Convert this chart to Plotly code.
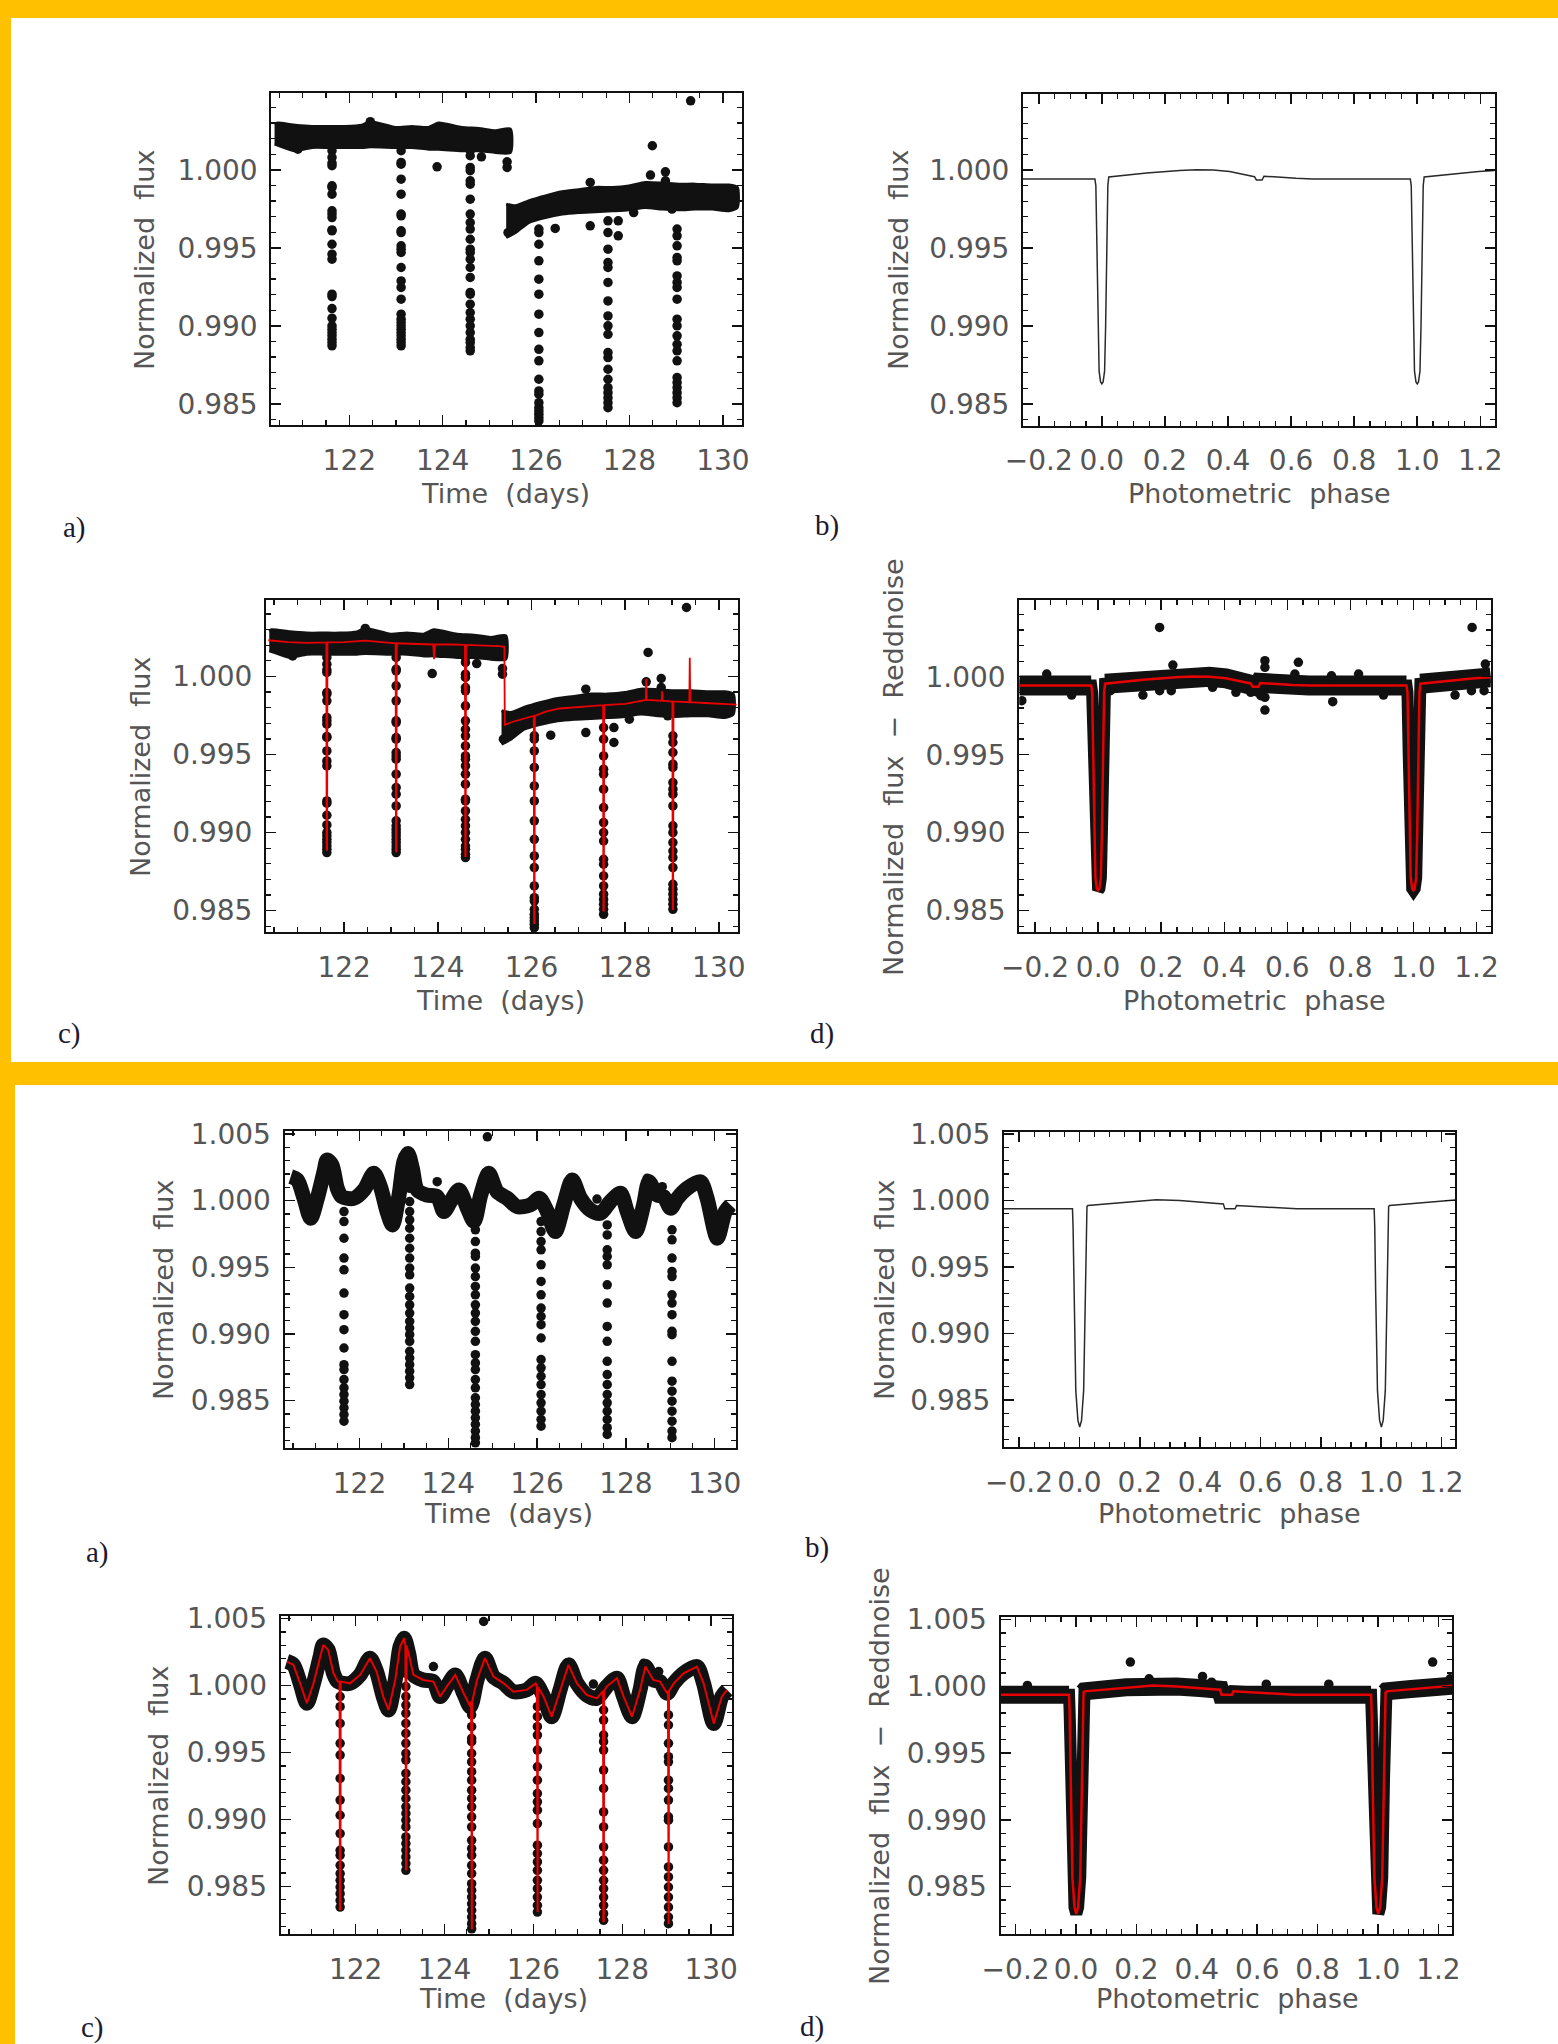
import plotly.graph_objects as go

W, H = 1558, 2044

# ---------------- Upper figure: light curve of star 1 (panels a, c) ----------------
# dense out-of-transit band: outer upper / lower edges
top_seg1_t = [120.40, 120.45, 120.84, 121.20, 121.56, 121.91, 122.27, 122.45, 122.99, 123.34, 123.70, 123.91, 124.41, 124.77, 125.13, 125.45]
top_seg1_hi = [1.00290, 1.00299, 1.00286, 1.00278, 1.00278, 1.00278, 1.00286, 1.00308, 1.00271, 1.00278, 1.00271, 1.00299, 1.00271, 1.00265, 1.00250, 1.00261]
top_seg1_lo = [1.00165, 1.00160, 1.00122, 1.00143, 1.00143, 1.00143, 1.00143, 1.00147, 1.00143, 1.00143, 1.00132, 1.00132, 1.00122, 1.00122, 1.00111, 1.00111]
top_seg2_t = [125.36, 125.56, 125.84, 126.20, 126.56, 126.91, 127.27, 127.63, 127.99, 128.34, 128.70, 129.06, 129.41, 129.77, 130.13, 130.31]
top_seg2_hi = [0.99780, 0.99769, 0.99801, 0.99833, 0.99859, 0.99872, 0.99887, 0.99887, 0.99897, 0.99919, 0.99915, 0.99908, 0.99908, 0.99902, 0.99902, 0.99887]
top_seg2_lo = [0.99566, 0.99598, 0.99662, 0.99694, 0.99716, 0.99726, 0.99731, 0.99737, 0.99744, 0.99759, 0.99748, 0.99744, 0.99748, 0.99748, 0.99737, 0.99759]

# in-transit points (one column per transit)
top_tr_t = [121.63, 123.11, 124.59, 126.06, 127.54, 129.02]
top_tr_f = [
    [1.00122, 1.00079, 1.00043, 1.00026, 0.99897, 0.99887, 0.99844, 0.99737, 0.99716, 0.99694, 0.99615, 0.99609, 0.99523,
     0.99459, 0.99427, 0.99203, 0.99188, 0.99111, 0.99049, 0.99000, 0.98979, 0.98957, 0.98936, 0.98914, 0.98893, 0.98872],
    [1.00122, 1.00047, 1.00036, 0.99940, 0.99844, 0.99716, 0.99705, 0.99609, 0.99598, 0.99513, 0.99491, 0.99470, 0.99374,
     0.99288, 0.99246, 0.99171, 0.99075, 0.99043, 0.99021, 0.99000, 0.98979, 0.98957, 0.98936, 0.98914, 0.98893, 0.98872],
    [1.00122, 1.00090, 1.00015, 0.99994, 0.99929, 0.99908, 0.99812, 0.99716, 0.99662, 0.99620, 0.99555, 0.99491, 0.99470,
     0.99427, 0.99374, 0.99310, 0.99214, 0.99203, 0.99139, 0.99085, 0.99043, 0.99000, 0.98957, 0.98914, 0.98893, 0.98861, 0.98840],
    [0.99620, 0.99598, 0.99523, 0.99417, 0.99299, 0.99203, 0.99075, 0.98957, 0.98850, 0.98776, 0.98658, 0.98583, 0.98562,
     0.98508, 0.98476, 0.98455, 0.98434, 0.98412, 0.98391],
    [0.99673, 0.99598, 0.99491, 0.99406, 0.99374, 0.99278, 0.99160, 0.99064, 0.99000, 0.98946, 0.98829, 0.98797, 0.98722,
     0.98658, 0.98605, 0.98572, 0.98540, 0.98508, 0.98476],
    [0.99620, 0.99577, 0.99513, 0.99438, 0.99417, 0.99320, 0.99278, 0.99246, 0.99171, 0.99043, 0.99000, 0.98936, 0.98882,
     0.98840, 0.98776, 0.98669, 0.98637, 0.98605, 0.98572, 0.98540, 0.98508],
]
top_out_t = [129.31, 128.49, 128.45, 128.77, 128.77, 127.16, 127.16, 126.41, 127.76, 127.76, 128.09, 128.91, 123.88, 124.83, 125.38, 125.38, 125.40, 120.90, 122.45]
top_out_f = [1.00442, 1.00154, 0.99966, 0.99987, 0.99929, 0.99919, 0.99641, 0.99624, 0.99673, 0.99577, 0.99726, 0.99748, 1.00019, 1.00083, 1.00015, 1.00051, 0.99598, 1.00132, 1.00308]

# red fit (panel c): out-of-transit part + transit dips
top_fit_t = [120.38, 120.80, 121.20, 121.55, 122.00, 122.45, 123.00, 123.50, 123.90, 123.92, 123.94, 124.30, 124.90, 125.30, 125.42, 125.43,
             125.60, 126.00, 126.30, 126.60, 127.00, 127.45, 128.00, 128.44, 128.45, 128.46, 128.70, 128.78, 128.79, 128.80, 128.95,
             129.37, 129.38, 129.39, 129.70, 130.00, 130.38]
top_fit_f = [1.00232, 1.00220, 1.00215, 1.00218, 1.00220, 1.00230, 1.00215, 1.00210, 1.00205, 1.00110, 1.00205, 1.00205, 1.00200, 1.00195, 1.00190, 0.99690,
             0.99710, 0.99745, 0.99775, 0.99795, 0.99805, 0.99815, 0.99825, 0.99850, 0.99985, 0.99850, 0.99845, 0.99845, 0.99905, 0.99845, 0.99840,
             0.99835, 1.00120, 0.99835, 0.99830, 0.99825, 0.99820]
top_tr_base = [1.00218, 1.00213, 1.00202, 0.99748, 0.99816, 0.99840]
top_tr_bottom = [0.98890, 0.98880, 0.98850, 0.98420, 0.98500, 0.98510]

# ---------------- Upper figure: phase-folded model / data (panels b, d) ----------------
top_model_ph = [-0.250, -0.022, -0.019, -0.015, -0.012, -0.0087, -0.004, 0.000, 0.004, 0.0087, 0.012, 0.015, 0.019, 0.022,
                0.142, 0.247, 0.300, 0.353, 0.405, 0.458, 0.484, 0.490, 0.508, 0.514, 0.563, 0.616, 0.668,
                0.978, 0.981, 0.985, 0.988, 0.9913, 0.996, 1.000, 1.004, 1.0087, 1.012, 1.015, 1.019, 1.022,
                1.089, 1.142, 1.195, 1.245]
top_model_f = [0.99943, 0.99943, 0.99900, 0.99500, 0.99000, 0.98711, 0.98642, 0.98630, 0.98642, 0.98711, 0.99000, 0.99500, 0.99900, 0.99955,
               0.99981, 0.99996, 1.00002, 1.00000, 0.99990, 0.99968, 0.99957, 0.99936, 0.99936, 0.99960, 0.99953, 0.99947, 0.99943,
               0.99943, 0.99900, 0.99500, 0.99000, 0.98711, 0.98642, 0.98630, 0.98642, 0.98711, 0.99000, 0.99500, 0.99900, 0.99955,
               0.99968, 0.99981, 0.99990, 0.99996]
top_pout_ph = [0.195, 1.186, -0.163, 0.237, 0.232, 0.142, 0.195, -0.084, -0.242, 0.363, 0.437, 0.484, 0.529, 0.529, 0.529, 0.529,
               0.516, 0.635, 0.624, 0.740, 0.744, 0.826, 0.905, 1.132, 1.184, 1.224, 1.228, 0.039]
top_pout_f = [1.00316, 1.00316, 1.00017, 1.00075, 0.99910, 0.99882, 0.99910, 0.99882, 0.99846, 0.99932, 0.99900, 0.99900, 1.00103, 1.00060, 0.99868, 0.99786,
              0.99878, 1.00092, 1.00017, 1.00006, 0.99840, 1.00017, 0.99882, 0.99882, 0.99910, 0.99910, 1.00081, 0.99910]

# ---------------- Lower figure: light curve of star 2 (panels a, c) ----------------
bot_t = [120.45, 120.60, 120.75, 120.90, 121.05, 121.20, 121.27, 121.38, 121.50, 121.60, 121.87, 122.10, 122.32, 122.47, 122.62,
         122.74, 122.89, 123.00, 123.09, 123.19, 123.30, 123.52, 123.75, 123.90, 124.05, 124.24, 124.43, 124.58, 124.73, 124.91,
         125.10, 125.33, 125.55, 125.85, 126.05, 126.23, 126.41, 126.60, 126.79, 126.98, 127.20, 127.43, 127.65, 127.88, 128.03,
         128.22, 128.40, 128.52, 128.70, 128.85, 129.01, 129.16, 129.38, 129.68, 129.83, 130.06, 130.24, 130.36]
bot_f = [1.00180, 1.00155, 1.00017, 0.99868, 1.00017, 1.00217, 1.00304, 1.00267, 1.00092, 1.00030, 1.00017, 1.00080, 1.00205, 1.00105, 0.99918,
         0.99818, 1.00042, 1.00292, 1.00354, 1.00242, 1.00080, 1.00042, 1.00030, 0.99918, 0.99993, 1.00080, 0.99943, 0.99843, 1.00042, 1.00205,
         1.00067, 1.00017, 0.99955, 0.99968, 1.00017, 0.99918, 0.99768, 0.99968, 1.00155, 1.00017, 0.99930, 0.99905, 0.99993, 1.00055, 0.99918,
         0.99768, 0.99968, 1.00142, 1.00042, 1.00030, 0.99943, 1.00017, 1.00092, 1.00142, 1.00017, 0.99718, 0.99918, 0.99968]
bot_tr_t = [121.65, 123.13, 124.61, 126.09, 127.58, 129.04]
bot_tr_f = [
    [0.99918, 0.99843, 0.99718, 0.99569, 0.99481, 0.99307, 0.99145, 0.99032, 0.98895, 0.98770, 0.98733, 0.98658, 0.98596,
     0.98546, 0.98496, 0.98446, 0.98396, 0.98346],
    [1.00155, 1.00092, 0.99993, 0.99918, 0.99855, 0.99793, 0.99718, 0.99643, 0.99569, 0.99494, 0.99444, 0.99344, 0.99282,
     0.99219, 0.99157, 0.99095, 0.99045, 0.98995, 0.98945, 0.98870, 0.98820, 0.98770, 0.98721, 0.98671, 0.98621],
    [0.99781, 0.99693, 0.99606, 0.99581, 0.99494, 0.99431, 0.99357, 0.99294, 0.99219, 0.99157, 0.99095, 0.99020, 0.98945,
     0.98845, 0.98783, 0.98733, 0.98658, 0.98596, 0.98521, 0.98471, 0.98421, 0.98371, 0.98322, 0.98272, 0.98222, 0.98184],
    [0.99843, 0.99768, 0.99693, 0.99631, 0.99519, 0.99394, 0.99294, 0.99194, 0.99132, 0.99070, 0.98970, 0.98808, 0.98746,
     0.98683, 0.98621, 0.98546, 0.98484, 0.98421, 0.98359, 0.98309],
    [0.99818, 0.99743, 0.99631, 0.99581, 0.99519, 0.99369, 0.99232, 0.99057, 0.98945, 0.98795, 0.98696, 0.98621, 0.98546,
     0.98484, 0.98421, 0.98359, 0.98297, 0.98247],
    [0.99781, 0.99706, 0.99569, 0.99469, 0.99431, 0.99294, 0.99232, 0.99145, 0.99020, 0.98995, 0.98795, 0.98646, 0.98571,
     0.98496, 0.98421, 0.98346, 0.98272, 0.98222],
]
bot_out_t = [124.88, 123.75, 128.48, 127.35, 128.82]
bot_out_f = [1.00479, 1.00142, 1.00167, 1.00012, 1.00105]
bot_tr_base = [1.00030, 1.00300, 0.99880, 0.99990, 0.99960, 0.99960]
bot_tr_bottom = [0.98330, 0.98620, 0.98180, 0.98310, 0.98240, 0.98220]

# ---------------- Lower figure: phase-folded model / data (panels b, d) ----------------
bot_model_ph = [-0.250, -0.023, -0.021, -0.018, -0.012, -0.005, 0.001, 0.007, 0.014, 0.020, 0.023, 0.025, 0.028,
                0.166, 0.255, 0.333, 0.410, 0.477, 0.482, 0.516, 0.521, 0.610, 0.721,
                0.977, 0.979, 0.982, 0.988, 0.995, 1.001, 1.007, 1.014, 1.020, 1.023, 1.025, 1.028,
                1.109, 1.166, 1.245]
bot_model_f = [0.99938, 0.99938, 0.99800, 0.99317, 0.98569, 0.98345, 0.98295, 0.98345, 0.98569, 0.99317, 0.99800, 0.99955, 0.99963,
               0.99993, 1.00007, 1.00000, 0.99988, 0.99975, 0.99938, 0.99938, 0.99963, 0.99950, 0.99938,
               0.99938, 0.99800, 0.99317, 0.98569, 0.98345, 0.98295, 0.98345, 0.98569, 0.99317, 0.99800, 0.99955, 0.99963,
               0.99980, 0.99993, 1.00005]
bot_pout_ph = [0.180, 1.181, 0.419, 0.242, 0.630, 0.837, -0.161, 1.239, 0.449]
bot_pout_f = [1.00182, 1.00182, 1.00075, 1.00057, 1.00017, 1.00017, 1.00007, 1.00057, 1.00032]

# ---------------- axis ranges ----------------
TOP_T_RANGE = [120.33, 130.41]
BOT_T_RANGE = [120.31, 130.47]
PH_RANGE = [-0.25, 1.245]
TOP_F_RANGE = [0.98363, 1.00490]
BOT_F_RANGE = [0.98145, 1.00520]

# ---------------- layout geometry (pixels: left, right, top, bottom) ----------------
BOX = {
    1: (271.3, 742.0, 93.3, 425.3),
    2: (1023.0, 1494.5, 93.5, 425.5),
    3: (266.0, 738.0, 600.0, 932.0),
    4: (1019.3, 1490.7, 600.3, 932.0),
    5: (284.5, 735.5, 1131.3, 1448.0),
    6: (1004.0, 1455.0, 1131.5, 1447.0),
    7: (280.6, 732.0, 1616.0, 1934.0),
    8: (1000.5, 1452.0, 1617.0, 1934.0),
}

BLACK = '#111111'
RED = '#e60000'
DOT = 9.5


def axn(i):
    return ('x' if i == 1 else 'x%d' % i), ('y' if i == 1 else 'y%d' % i)


fig = go.Figure()


def add(i, **kw):
    xa, ya = axn(i)
    fig.add_trace(go.Scatter(xaxis=xa, yaxis=ya, showlegend=False, hoverinfo='skip', **kw))


def dips(tr_t, base, bottom):
    xs, ys = [], []
    for t, b, m in zip(tr_t, base, bottom):
        xs += [t - 0.012, t - 0.005, t + 0.005, t + 0.012]
        ys += [b, m, m, b]
    return xs, ys


# ----- upper light curve (1, 3) -----
for i in (1, 3):
    for t, hi, lo in ((top_seg1_t, top_seg1_hi, top_seg1_lo), (top_seg2_t, top_seg2_hi, top_seg2_lo)):
        add(i, x=t + t[::-1], y=hi + lo[::-1], mode='lines', fill='toself', fillcolor=BLACK,
            line=dict(color=BLACK, width=3, shape='spline', smoothing=0.6))
    for tc, fl in zip(top_tr_t, top_tr_f):
        add(i, x=[tc] * len(fl), y=fl, mode='markers', marker=dict(size=DOT, color=BLACK))
    add(i, x=top_out_t, y=top_out_f, mode='markers', marker=dict(size=DOT, color=BLACK))

dx, dy = dips(top_tr_t, top_tr_base, top_tr_bottom)
pts = sorted(zip(top_fit_t + dx, top_fit_f + dy))
add(3, x=[p[0] for p in pts], y=[p[1] for p in pts], mode='lines', line=dict(color=RED, width=1.8))

# ----- upper phase (2, 4) -----
add(2, x=top_model_ph, y=top_model_f, mode='lines', line=dict(color='#2a2a2a', width=1.5))
wide = [f if f > 0.9991 else None for f in top_model_f]
add(4, x=top_model_ph, y=wide, mode='lines', line=dict(color=BLACK, width=20), connectgaps=False)
add(4, x=top_model_ph, y=top_model_f, mode='lines', line=dict(color=BLACK, width=12))
add(4, x=top_pout_ph, y=top_pout_f, mode='markers', marker=dict(size=DOT, color=BLACK))
add(4, x=top_model_ph, y=top_model_f, mode='lines', line=dict(color=RED, width=2.5))

# ----- lower light curve (5, 7) -----
for i in (5, 7):
    add(i, x=bot_t, y=bot_f, mode='lines', line=dict(color=BLACK, width=15, shape='spline', smoothing=0.8))
    for tc, fl in zip(bot_tr_t, bot_tr_f):
        add(i, x=[tc] * len(fl), y=fl, mode='markers', marker=dict(size=DOT, color=BLACK))
    add(i, x=bot_out_t, y=bot_out_f, mode='markers', marker=dict(size=DOT, color=BLACK))

dx, dy = dips(bot_tr_t, bot_tr_base, bot_tr_bottom)
pts = sorted(zip(bot_t + dx, bot_f + dy))
add(7, x=[p[0] for p in pts], y=[p[1] for p in pts], mode='lines', line=dict(color=RED, width=2))

# ----- lower phase (6, 8) -----
add(6, x=bot_model_ph, y=bot_model_f, mode='lines', line=dict(color='#2a2a2a', width=1.5))
wide = [f if f > 0.9991 else None for f in bot_model_f]
add(8, x=bot_model_ph, y=wide, mode='lines', line=dict(color=BLACK, width=18), connectgaps=False)
add(8, x=bot_model_ph, y=bot_model_f, mode='lines', line=dict(color=BLACK, width=12))
add(8, x=bot_pout_ph, y=bot_pout_f, mode='markers', marker=dict(size=DOT, color=BLACK))
add(8, x=bot_model_ph, y=bot_model_f, mode='lines', line=dict(color=RED, width=2.5))

# ---------------- axes ----------------
TICKFONT = dict(family='DejaVu Sans', size=28, color='#555555')
common = dict(showgrid=False, zeroline=False, showline=True, linecolor=BLACK, linewidth=2,
              mirror='allticks', ticks='inside', ticklen=10, tickwidth=1.5, tickcolor=BLACK,
              tickfont=TICKFONT, tickangle=0, fixedrange=True, layer='above traces', automargin=False)

layout = {}
for i in range(1, 9):
    l, r, t, b = BOX[i]
    xa, ya = axn(i)
    xkey = 'xaxis' if i == 1 else 'xaxis%d' % i
    ykey = 'yaxis' if i == 1 else 'yaxis%d' % i
    is_phase = i in (2, 4, 6, 8)
    is_top = i <= 4
    if is_phase:
        xr, dt, mdt, fmt = PH_RANGE, 0.2, 0.05, '.1f'
    else:
        xr, dt, mdt, fmt = (TOP_T_RANGE if is_top else BOT_T_RANGE), 2, 0.5, 'd'
    layout[xkey] = dict(domain=[l / W, r / W], range=xr, anchor=ya, tick0=0, dtick=dt, tickformat=fmt,
                        ticklabelstandoff=9,
                        minor=dict(tick0=0, dtick=mdt, ticks='inside', ticklen=5, tickwidth=1.2, tickcolor=BLACK),
                        **common)
    layout[ykey] = dict(domain=[1 - b / H, 1 - t / H], range=(TOP_F_RANGE if is_top else BOT_F_RANGE), anchor=xa,
                        tick0=0, dtick=0.005, tickformat='.3f', ticklabelstandoff=6,
                        minor=dict(tick0=0, dtick=0.001, ticks='inside', ticklen=5, tickwidth=1.2, tickcolor=BLACK),
                        **common)

# ---------------- text ----------------
TITLEFONT = dict(family='DejaVu Sans', size=27, color='#555555')
LETTERFONT = dict(family='Liberation Serif', size=29, color='#1a1a30')
NB = '\u00a0'
texts = [
    # (x, y, text, angle, font)
    (145, 260, 'Normalized' + NB + NB + 'flux', -90, TITLEFONT),
    (505, 493, 'Time' + NB + NB + '(days)', 0, TITLEFONT),
    (74, 527, 'a)', 0, LETTERFONT),
    (899, 260, 'Normalized' + NB + NB + 'flux', -90, TITLEFONT),
    (1259, 493, 'Photometric' + NB + NB + 'phase', 0, TITLEFONT),
    (827, 525, 'b)', 0, LETTERFONT),
    (140, 767, 'Normalized' + NB + NB + 'flux', -90, TITLEFONT),
    (500, 1000, 'Time' + NB + NB + '(days)', 0, TITLEFONT),
    (69, 1033, 'c)', 0, LETTERFONT),
    (893, 767, 'Normalized' + NB + NB + 'flux' + NB + NB + '\u2212' + NB + NB + 'Reddnoise', -90, TITLEFONT),
    (1254, 1000, 'Photometric' + NB + NB + 'phase', 0, TITLEFONT),
    (822, 1033, 'd)', 0, LETTERFONT),
    (163, 1290, 'Normalized' + NB + NB + 'flux', -90, TITLEFONT),
    (508, 1513, 'Time' + NB + NB + '(days)', 0, TITLEFONT),
    (97, 1552, 'a)', 0, LETTERFONT),
    (884, 1290, 'Normalized' + NB + NB + 'flux', -90, TITLEFONT),
    (1229, 1513, 'Photometric' + NB + NB + 'phase', 0, TITLEFONT),
    (817, 1547, 'b)', 0, LETTERFONT),
    (158, 1776, 'Normalized' + NB + NB + 'flux', -90, TITLEFONT),
    (503, 1998, 'Time' + NB + NB + '(days)', 0, TITLEFONT),
    (92, 2027, 'c)', 0, LETTERFONT),
    (879, 1776, 'Normalized' + NB + NB + 'flux' + NB + NB + '\u2212' + NB + NB + 'Reddnoise', -90, TITLEFONT),
    (1227, 1998, 'Photometric' + NB + NB + 'phase', 0, TITLEFONT),
    (812, 2026, 'd)', 0, LETTERFONT),
]
annotations = [dict(x=x / W, y=1 - y / H, xref='paper', yref='paper', text=s, textangle=a, showarrow=False,
                    xanchor='center', yanchor='middle', font=f) for x, y, s, a, f in texts]

ORANGE = '#FFC000'
shapes = [
    dict(type='rect', xref='paper', yref='paper', x0=0, x1=1, y0=1 - 18 / H, y1=1, fillcolor=ORANGE, line=dict(width=0), layer='below'),
    dict(type='rect', xref='paper', yref='paper', x0=0, x1=1, y0=1 - 1085 / H, y1=1 - 1062 / H, fillcolor=ORANGE, line=dict(width=0), layer='below'),
    dict(type='rect', xref='paper', yref='paper', x0=0, x1=11 / W, y0=1 - 1062 / H, y1=1, fillcolor=ORANGE, line=dict(width=0), layer='below'),
    dict(type='rect', xref='paper', yref='paper', x0=0, x1=15 / W, y0=0, y1=1 - 1085 / H, fillcolor=ORANGE, line=dict(width=0), layer='below'),
]

fig.update_layout(width=W, height=H, margin=dict(l=0, r=0, t=0, b=0, pad=0, autoexpand=False), autosize=False,
                  paper_bgcolor='white', plot_bgcolor='white', showlegend=False,
                  annotations=annotations, shapes=shapes, **layout)

fig.write_html('out.html', config=dict(displayModeBar=False, staticPlot=True),
               post_script="document.body.style.margin='0px';document.body.style.padding='0px';")
